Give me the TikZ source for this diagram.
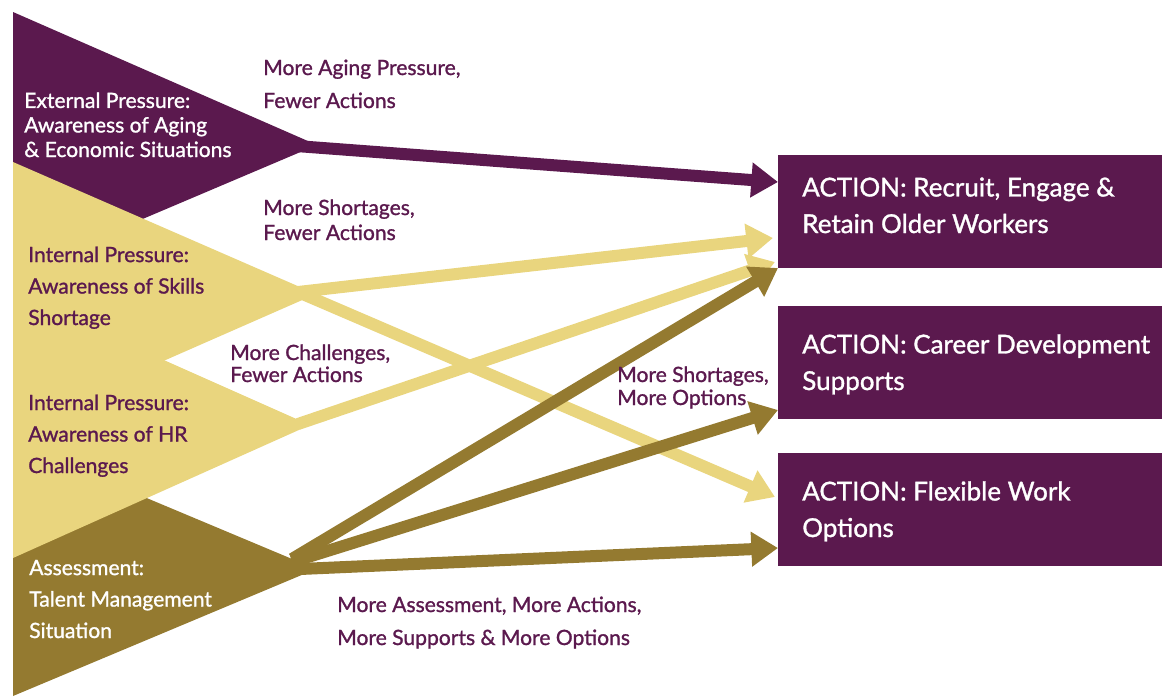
\documentclass[tikz,border=0pt]{standalone}
\usepackage{fontspec}
\setmainfont{Lato}[FakeBold=1.2]
\newfontfamily\latomed{Lato}[FakeBold=1.2]
\usetikzlibrary{arrows.meta}
\definecolor{plum}{RGB}{91,25,78}
\definecolor{sand}{RGB}{233,213,126}
\definecolor{olive}{RGB}{148,122,48}
\begin{document}
\begin{tikzpicture}[x=0.75pt,y=-0.75pt,
  arr/.style={line width=9pt,-{Triangle[length=20pt,width=25pt]}},
  lbl/.style={anchor=base west,inner sep=0pt,align=left,text=plum,font={\latomed\fontsize{15.8pt}{#1}\selectfont}},
  wlbl/.style={lbl=#1,text=white},
  box/.style={fill=plum,anchor=north west,inner sep=0pt,minimum width=288pt,minimum height=84.75pt},
  boxtxt/.style={anchor=base west,inner sep=0pt,align=left,text=white,font={\latomed\fontsize{19.5pt}{27.4pt}\selectfont}}]
\useasboundingbox (0,0) rectangle (1162,696);

% source wedges
\fill[plum]  (13,12)  -- (317,145) -- (13,274) -- cycle;
\fill[olive] (13,442) -- (316,569) -- (13,696) -- cycle;
\fill[sand]  (13,162) -- (316,294) -- (13,427) -- cycle;
\fill[sand]  (13,293) -- (310,425) -- (13,558) -- cycle;

% apex coordinates
\coordinate (ext)  at (296,146);
\coordinate (skl)  at (298,292);
\coordinate (hr)   at (298,424);
\coordinate (asA)  at (292,559);
\coordinate (asB)  at (292,562);
\coordinate (asC)  at (300,569);

% action boxes
\node[box] (b1) at (778,155) {};
\node[box] (b2) at (778,306) {};
\node[box] (b3) at (778,453) {};

% arrow ends
\coordinate (e1a) at (778,182);
\coordinate (e1b) at (773,238);
\coordinate (e1c) at (775,262);
\coordinate (e1d) at (778,268);
\coordinate (e2)  at (778,410);
\coordinate (e3a) at (775,497);
\coordinate (e3b) at (778,548);

% connectors
\draw[arr,sand]  (skl) -- (e1b);
\draw[arr,sand]  (hr)  -- (e1c);
\draw[arr,sand]  (skl) -- (e3a);
\draw[arr,olive] (asA) -- (e1d);
\draw[arr,olive] (asB) -- (e2);
\draw[arr,olive] (asC) -- (e3b);
\draw[arr,plum]  (ext) -- (e1a);

% box texts (anchored at the baseline of the last line)
\node[boxtxt] (t1) at (802,233) {ACTION: Recruit, Engage \&\\Retain Older Workers};
\node[boxtxt] (t2) at (802,390) {ACTION: Career Development\\Supports};
\node[boxtxt] (t3) at (802,537) {ACTION: Flexible Work\\Options};

% source labels
\node[wlbl=18.4pt] (l1) at (24,157) {External Pressure:\\Awareness of Aging\\\& Economic Situations};
\node[lbl=23.6pt]  (l2) at (28,325) {Internal Pressure:\\Awareness of Skills\\Shortage};
\node[lbl=23.6pt]  (l3) at (28,473) {Internal Pressure:\\Awareness of HR\\Challenges};
\node[wlbl=23.6pt] (l4) at (29,638) {Assessment:\\Talent Management\\Situation};

% connector labels
\node[lbl=24.75pt] (c1) at (263,108) {More Aging Pressure,\\Fewer Actions};
\node[lbl=18.75pt] (c2) at (263,240) {More Shortages,\\Fewer Actions};
\node[lbl=16.5pt]  (c3) at (230,382) {More Challenges,\\Fewer Actions};
\node[lbl=17.25pt] (c4) at (617,405) {More Shortages,\\More Options};
\node[lbl=24.75pt] (c5) at (337,645) {More Assessment, More Actions,\\More Supports \& More Options};
\end{tikzpicture}
\end{document}
